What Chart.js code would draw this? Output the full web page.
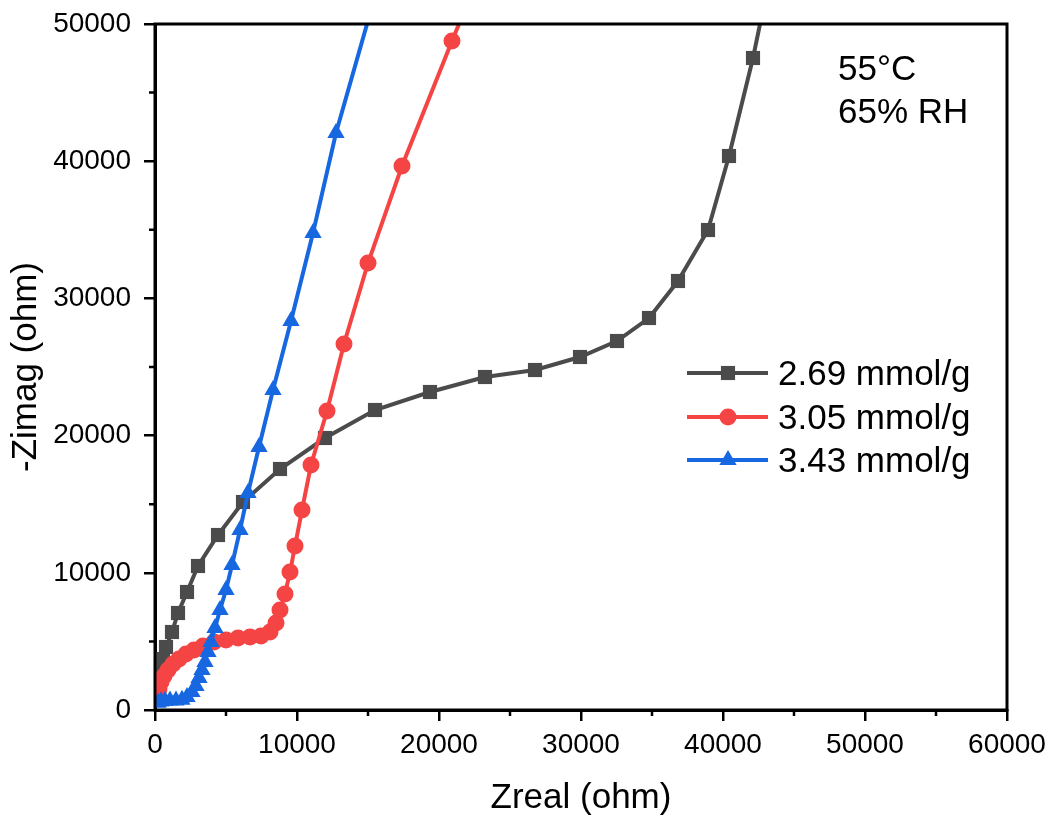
<!DOCTYPE html>
<html>
<head>
<meta charset="utf-8">
<script src="https://cdn.jsdelivr.net/npm/chart.js@4.4.1/dist/chart.umd.min.js"></script>
<style>
  html, body { margin: 0; padding: 0; background: #fff; }
  #wrap { width: 1052px; height: 819px; }
</style>
</head>
<body>
<div id="wrap"><canvas id="chart"></canvas></div>
<script>
// series names
const seriesLabels = ['2.69 mmol/g', '3.05 mmol/g', '3.43 mmol/g'];

// 2.69 mmol/g (squares)
const zreal269 = [282, 352, 423, 563, 775, 1197, 1620, 2254, 3028, 4437, 6197, 8803, 11972, 15493, 19366, 23239, 26761, 29930, 32535, 34789, 36831, 38944, 40423, 42113, 43306];
const zimag269 = [1458, 2187, 2915, 3717, 4592, 5685, 7070, 8601, 10496, 12755, 15160, 17566, 19825, 21866, 23178, 24271, 24781, 25729, 26895, 28571, 31268, 34985, 40379, 47522, 53500];

// 3.05 mmol/g (circles)
const zreal305 = [141, 282, 423, 634, 915, 1268, 1690, 2183, 2746, 3380, 4155, 5000, 5845, 6690, 7465, 8099, 8521, 8803, 9155, 9507, 9859, 10352, 10986, 12113, 13310, 15000, 17394, 20915, 24000];
const zimag305 = [1020, 1531, 2041, 2478, 2915, 3353, 3717, 4082, 4373, 4665, 4956, 5102, 5248, 5321, 5394, 5685, 6341, 7289, 8455, 10058, 11953, 14577, 17857, 21793, 26676, 32580, 39650, 48761, 56500];

// 3.43 mmol/g (triangles)
const zreal343 = [211, 423, 704, 1056, 1479, 1901, 2254, 2606, 2887, 3099, 3310, 3521, 3732, 3944, 4225, 4577, 5000, 5423, 5986, 6549, 7324, 8310, 9577, 11127, 12746, 15400];
const zimag343 = [520, 620, 680, 690, 690, 740, 948, 1312, 1749, 2332, 2915, 3499, 4227, 4956, 5977, 7289, 8746, 10569, 13120, 15816, 19169, 23324, 28353, 34767, 42055, 51700];

const xTicksMajor = [0, 10000, 20000, 30000, 40000, 50000, 60000];
const yTicksMajor = [0, 10000, 20000, 30000, 40000, 50000];
const notes = ['55°C', '65% RH'];

const colors = ['#4b4b4b', '#f54444', '#1767e0'];
const styles = ['rect', 'circle', 'triangle'];
const radii = [10, 8.5, 10];
const FONT = "'Liberation Sans', Arial, sans-serif";

function toPoints(xs, ys) {
    return xs.map((x, i) => ({ x: x, y: ys[i] }));
}

function drawMarker(ctx, style, x, y, r, color) {
    ctx.fillStyle = color;
    ctx.beginPath();
    if (style === 'rect') {
        const s = Math.SQRT1_2 * r;
        ctx.rect(x - s, y - s, 2 * s, 2 * s);
    } else if (style === 'circle') {
        ctx.arc(x, y, r, 0, Math.PI * 2);
    } else {
        ctx.moveTo(x, y - r);
        ctx.lineTo(x + r * 0.866, y + r * 0.5);
        ctx.lineTo(x - r * 0.866, y + r * 0.5);
        ctx.closePath();
    }
    ctx.fill();
}

const overlay = {
    id: 'overlay',
    afterDatasetsDraw(chart) {
        const { ctx, chartArea: a } = chart;
        const xs = chart.scales.x, ys = chart.scales.y;
        ctx.save();
        // frame
        ctx.strokeStyle = '#000';
        ctx.lineWidth = 3;
        ctx.strokeRect(a.left, a.top, a.right - a.left, a.bottom - a.top);
        // minor ticks
        ctx.lineWidth = 2.5;
        ctx.beginPath();
        for (let v = 5000; v < 60000; v += 10000) {
            const px = xs.getPixelForValue(v);
            ctx.moveTo(px, a.bottom);
            ctx.lineTo(px, a.bottom + 6);
        }
        for (let v = 5000; v < 50000; v += 10000) {
            const py = ys.getPixelForValue(v);
            ctx.moveTo(a.left, py);
            ctx.lineTo(a.left - 6, py);
        }
        ctx.stroke();

        // legend
        const lx = a.left + 532, rowY = [a.top + 349, a.top + 393, a.top + 436];
        ctx.font = '35px ' + FONT;
        ctx.textBaseline = 'middle';
        ctx.textAlign = 'left';
        seriesLabels.forEach((lab, i) => {
            ctx.strokeStyle = colors[i];
            ctx.lineWidth = 4;
            ctx.beginPath();
            ctx.moveTo(lx, rowY[i]);
            ctx.lineTo(lx + 81, rowY[i]);
            ctx.stroke();
            drawMarker(ctx, styles[i], lx + 41, rowY[i], radii[i], colors[i]);
            ctx.fillStyle = '#000';
            ctx.fillText(lab, lx + 91, rowY[i] + 2);
        });

        // condition notes
        ctx.textBaseline = 'alphabetic';
        ctx.fillStyle = '#000';
        ctx.fillText(notes[0], a.left + 683, a.top + 56);
        ctx.fillText(notes[1], a.left + 683, a.top + 99);
        ctx.restore();
    }
};

const datasets = [
    { data: toPoints(zreal269, zimag269), order: 3 },
    { data: toPoints(zreal305, zimag305), order: 2 },
    { data: toPoints(zreal343, zimag343), order: 1 }
].map((d, i) => Object.assign(d, {
    label: seriesLabels[i],
    showLine: true,
    borderColor: colors[i],
    backgroundColor: colors[i],
    borderWidth: 4,
    tension: 0,
    pointStyle: styles[i],
    pointRadius: radii[i],
    pointBorderWidth: 0,
    pointBackgroundColor: colors[i],
    clip: 0
}));

new Chart(document.getElementById('chart'), {
    type: 'scatter',
    data: { datasets: datasets },
    options: {
        responsive: true,
        maintainAspectRatio: false,
        animation: false,
        devicePixelRatio: 1,
        events: [],
        layout: { padding: { top: 24, right: 45, left: 0, bottom: 0 } },
        plugins: { legend: { display: false }, tooltip: { enabled: false } },
        scales: {
            x: {
                type: 'linear', min: 0, max: 60000,
                afterFit(s) { s.height = 109; s.paddingLeft = 0; s.paddingRight = 0; },
                afterBuildTicks(s) { s.ticks = xTicksMajor.map(v => ({ value: v })); },
                ticks: { font: { size: 28, family: FONT }, color: '#000', padding: 7, maxRotation: 0, autoSkip: false,
                         callback: v => String(v) },
                grid: { drawOnChartArea: false, drawTicks: true, tickLength: 11, color: '#000', lineWidth: 2.5 },
                border: { display: true, color: '#000', width: 3 },
                title: { display: true, text: 'Zreal (ohm)', color: '#000', font: { size: 35, family: FONT }, padding: { top: 0, bottom: 0 } }
            },
            y: {
                type: 'linear', min: 0, max: 50000,
                afterFit(s) { s.width = 155; s.paddingTop = 0; s.paddingBottom = 0; },
                afterBuildTicks(s) { s.ticks = yTicksMajor.map(v => ({ value: v })); },
                ticks: { font: { size: 28, family: FONT }, color: '#000', padding: 13,
                         callback: v => String(v) },
                grid: { drawOnChartArea: false, drawTicks: true, tickLength: 11, color: '#000', lineWidth: 2.5 },
                border: { display: true, color: '#000', width: 3 },
                title: { display: true, text: '-Zimag (ohm)', color: '#000', font: { size: 35, family: FONT }, padding: { top: 5, bottom: 0 } }
            }
        }
    },
    plugins: [overlay]
});
</script>
</body>
</html>
